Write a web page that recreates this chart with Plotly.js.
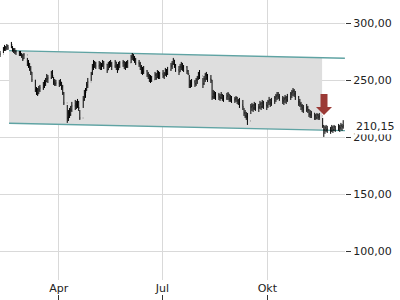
<!DOCTYPE html>
<html>
<head>
<meta charset="utf-8">
<script src="https://cdn.plot.ly/plotly-3.0.1.min.js"></script>
<style>html,body{margin:0;padding:0;background:#fff;}#chart{width:400px;height:300px;}</style>
</head>
<body>
<div id="chart"></div>
<script>
// ---- data ----
const startDate = '2024-02-09'; // first trading day shown (weekdays follow)
const highs = [
  275.7,
  279.2, 281, 280, 281.8, 281,
  283.6, 280, 278.3, 278.3, 276.6,
  275.7, 275.7, 273.9, 273, 273.9,
  269.6, 267.8, 265.2, 262.5, 257.3,
  250.3, 244.1, 243.2, 245, 245.9,
  248.5, 250.3, 252, 255.5, 254.6,
  258.2, 259, 252.9, 251.1, 250.3,
  250.3, 251.1, 248.5, 245.9, 239.7,
  228.3, 223.9, 225.7, 227.5, 231,
  232.7, 231.9, 233.6, 231.9, 223.9,
  236.2, 241.5, 243.2, 248.5, 252,
  257.3, 264.3, 267.8, 266.9, 266.1,
  266.9, 266.1, 265.2, 267.8, 266.9,
  264.3, 266.1, 266.9, 267.8, 266.1,
  267.8, 266.1, 264.3, 266.1, 266.9,
  267.8, 266.9, 266.1, 266.9, 267.8,
  272.2, 273.9, 273, 271.3, 269.6,
  267.8, 266.1, 263.4, 261.7, 262.5,
  259, 257.3, 255.5, 254.6, 253.8,
  257.3, 256.4, 259, 258.2, 257.3,
  259, 257.3, 260.8, 259.9, 261.7,
  265.2, 266.9, 269.6, 267.8, 264.3,
  262.5, 264.3, 266.1, 265.2, 263.4,
  262.5, 259, 254.6, 250.3, 251.1,
  250.3, 252, 253.8, 257.3, 259,
  252, 253.8, 256.4, 257.3, 255.5,
  254.6, 250.3, 241.5, 240.6, 239.7,
  238.9, 238, 239.7, 238, 237.1,
  238.9, 239.7, 238, 237.1, 236.2,
  235.4, 236.2, 235.4, 233.6, 234.5,
  232.7, 225.7, 223.9, 222.2, 221.3,
  229.2, 230.1, 229.2, 231, 230.1,
  229.2, 231.9, 231, 232.7, 231.9,
  231, 232.7, 235.4, 233.6, 234.5,
  236.2, 238, 239.7, 239.7, 238,
  236.2, 235.4, 237.1, 236.2, 238,
  239.7, 241.5, 243.2, 242.3, 240.6,
  236.2, 233.6, 231, 229.2, 228.3,
  229.2, 227.5, 224.8, 223.9, 223.1,
  221.3, 220.4, 221.3, 220.4, 221.3,
  217, 210.8, 210, 210.8, 210,
  209.1, 210.8, 210, 210.8, 210,
  211.7, 210.8, 212.6, 211.7, 215
];
const lows = [
  270.4,
  273.9, 275.7, 275.7, 276.6, 276.6,
  278.3, 275, 273.9, 273, 272.2,
  271.3, 271.3, 269.6, 266.9, 268.7,
  262.5, 260.8, 258.2, 254.6, 248.5,
  239.7, 237.1, 236.2, 238, 239.7,
  241.5, 243.2, 245, 248.5, 247.6,
  251.1, 252, 245.9, 245, 245,
  244.1, 245, 241.5, 237.1, 228.3,
  212.6, 214.3, 216.9, 218.7, 222.2,
  223.9, 224.8, 225.7, 223.1, 215.2,
  225.7, 231.9, 234.5, 240.6, 243.2,
  249.4, 254.6, 259, 260.8, 259.9,
  259.9, 259, 259, 261.7, 259.9,
  256.4, 259, 260.8, 261.7, 259,
  260.8, 259, 256.4, 259, 260.8,
  261.7, 259.9, 259, 260.8, 260.8,
  265.2, 267.8, 266.9, 265.2, 263.4,
  261.7, 259, 255.5, 254.6, 255.5,
  252.9, 251.1, 248.5, 247.6, 248.5,
  250.3, 250.3, 252, 251.1, 251.1,
  252, 251.1, 253.8, 252.9, 254.6,
  258.2, 259.9, 263.4, 260.8, 257.3,
  254.6, 257.3, 259, 258.2, 257.3,
  255.5, 254.6, 243.2, 243.2, 244.1,
  244.1, 245, 246.8, 250.3, 251.1,
  243.2, 245.9, 248.5, 250.3, 248.5,
  247.6, 232.7, 233.6, 233.6, 232.7,
  232.7, 231.9, 233.6, 231.9, 231,
  232.7, 232.7, 231, 231, 230.1,
  230.1, 231, 229.2, 228.3, 225.7,
  223.9, 218.7, 216.9, 215.2, 210.8,
  220.4, 223.1, 222.2, 223.9, 223.1,
  222.2, 224.8, 223.9, 225.7, 224.8,
  223.9, 225.7, 228.3, 226.6, 227.5,
  229.2, 231, 232.7, 233.6, 231.9,
  229.2, 228.3, 230.1, 229.2, 231,
  232.7, 234.5, 236.2, 235.4, 232.7,
  227.5, 226.6, 223.9, 222.2, 221.3,
  222.2, 221.3, 217.8, 216.9, 216.9,
  215.2, 215.2, 216.1, 215.2, 215.2,
  208.2, 200.3, 203, 204.7, 203.8,
  203, 204.7, 203.8, 205.6, 204.7,
  205.6, 204.7, 206.5, 205.6, 207.5
];
const closes = [
  273,
  277.5, 279.2, 278.3, 280, 278.3,
  281, 276.6, 276.6, 275, 275,
  273.9, 272.2, 271.3, 268.7, 272.2,
  266.1, 262.5, 259.9, 257.3, 250.3,
  241.5, 238.9, 238, 241.5, 243.2,
  245, 247.6, 248.5, 251.1, 252,
  256.4, 253.8, 248.5, 246.8, 247.6,
  246.8, 248.5, 244.1, 238.9, 230.1,
  216.9, 221.3, 219.6, 223.9, 227.5,
  229.2, 228.3, 231, 225.7, 216.9,
  232.7, 238, 239.7, 245.9, 248.5,
  255.5, 261.7, 266.1, 264.3, 262.5,
  263.4, 260.8, 262.5, 266.1, 264.3,
  259, 264.3, 265.2, 264.3, 262.5,
  266.1, 262.5, 259, 264.3, 265.2,
  266.1, 263.4, 264.3, 266.1, 265.2,
  270.4, 272.2, 268.7, 267.8, 265.2,
  264.3, 261.7, 259, 257.3, 258.2,
  255.5, 253.8, 251.1, 252, 250.3,
  254.6, 252, 256.4, 253.8, 255.5,
  253.8, 255.5, 259, 255.5, 259,
  262.5, 264.3, 267.8, 263.4, 259,
  257.3, 261.7, 264.3, 260.8, 261.7,
  258.2, 255.5, 245.9, 247.6, 248.5,
  246.8, 250.3, 252, 255.5, 253.8,
  246.8, 251.1, 254.6, 254.6, 251.1,
  250.3, 235.4, 238, 236.2, 237.1,
  235.4, 234.5, 237.1, 233.6, 234.5,
  236.2, 238, 233.6, 235.4, 232.7,
  233.6, 234.5, 231.9, 230.1, 228.3,
  226.6, 221.3, 218.7, 217.8, 214.3,
  226.6, 227.5, 225.7, 228.3, 225.7,
  226.6, 229.2, 226.6, 230.1, 228.3,
  227.5, 231, 232.7, 230.1, 231.9,
  234.5, 236.2, 237.1, 235.4, 233.6,
  231.9, 233.6, 234.5, 232.7, 235.4,
  238, 239.7, 240.6, 238, 235.4,
  231, 229.2, 227.5, 225.7, 223.9,
  225.7, 223.9, 220.4, 219.6, 221.3,
  218.7, 216.9, 219.6, 217.8, 218.7,
  210, 206.5, 208.2, 206.5, 207.3,
  205.6, 208.2, 206.5, 209.1, 207.3,
  209.1, 208.2, 210, 209.1, 210.15
];
// trend channel
const channelDates  = ['2024-02-17 10:00', '2024-11-18 00:00', '2024-12-08 00:00'];
const channelTop    = [276.0, 269.8, 269.3];
const channelBottom = [212.3, 206.2, 205.8];
// sell signal
const signalDate  = '2024-11-19 16:00';
const signalValue = 219.6;
// axes
const xTickVals  = ['2024-04-01', '2024-07-01', '2024-10-01'];
const xTickText  = ['Apr', 'Jul', 'Okt'];
const yTickVals  = [100, 150, 200, 250, 300];
const xRange = ['2024-02-09 12:00', '2024-12-08 02:00'];
const yRange = [74.8, 320.4];

// ---- build ----
function tradingDays(start, n) {
  const out = [];
  const d = new Date(start + 'T00:00:00Z');
  while (out.length < n) {
    const wd = d.getUTCDay();
    if (wd !== 0 && wd !== 6) out.push(d.toISOString().slice(0, 10));
    d.setUTCDate(d.getUTCDate() + 1);
  }
  return out;
}
function shiftHours(day, h) {
  const d = new Date(day + 'T12:00:00Z');
  d.setUTCHours(d.getUTCHours() + h);
  return d.toISOString().slice(0, 19).replace('T', ' ');
}
const dates = tradingDays(startDate, closes.length);
const opens = closes.map((c, i) => i === 0 ? c : closes[i - 1]);
const lastClose = closes[closes.length - 1];

// OHLC bars as line segments (drawn above the channel fill)
const barX = [], barY = [];
dates.forEach((d, i) => {
  const mid = shiftHours(d, 0);
  barX.push(mid, mid, null);
  barY.push(highs[i], lows[i], null);
  barX.push(shiftHours(d, -8), mid, null);
  barY.push(opens[i], opens[i], null);
  barX.push(mid, shiftHours(d, 8), null);
  barY.push(closes[i], closes[i], null);
});

const traces = [
  { type: 'scatter', mode: 'lines',
    x: [channelDates[0], channelDates[1], channelDates[1], channelDates[0]],
    y: [channelTop[0], channelTop[1], channelBottom[1], channelBottom[0]],
    fill: 'toself', fillcolor: '#dedede', line: { width: 0 },
    hoverinfo: 'skip', showlegend: false },
  { type: 'scatter', mode: 'lines',
    x: [channelDates[0], channelDates[2]], y: [channelTop[0], channelTop[2]],
    line: { color: '#5fa3a3', width: 1.4 }, hoverinfo: 'skip', showlegend: false },
  { type: 'scatter', mode: 'lines',
    x: [channelDates[0], channelDates[2]], y: [channelBottom[0], channelBottom[2]],
    line: { color: '#5fa3a3', width: 1.4 }, hoverinfo: 'skip', showlegend: false },
  { type: 'scatter', mode: 'lines', x: barX, y: barY, connectgaps: false,
    line: { color: '#000', width: 1 }, hoverinfo: 'skip', showlegend: false },
  { type: 'scatter', mode: 'markers', x: xTickVals, y: xTickVals.map(() => null),
    xaxis: 'x2', yaxis: 'y', hoverinfo: 'skip', showlegend: false }
];

const font = { family: 'DejaVu Sans', size: 11, color: '#222' };
const layout = {
  width: 400, height: 300,
  margin: { l: 0, r: 55, t: 0, b: 0, pad: 0 },
  paper_bgcolor: '#fff', plot_bgcolor: '#fff',
  separators: ',.',
  font: font,
  showlegend: false,
  xaxis: {
    type: 'date', range: xRange, tickvals: xTickVals, ticktext: xTickText,
    ticks: '', showgrid: true, gridcolor: '#d9d9d9', gridwidth: 1,
    zeroline: false, showline: false, tickfont: font, fixedrange: true
  },
  xaxis2: {
    type: 'date', range: xRange, overlaying: 'x', anchor: 'free', position: 0,
    side: 'bottom', tickvals: xTickVals, ticks: 'inside', ticklen: 5,
    tickcolor: '#333', tickwidth: 1, showticklabels: false, showgrid: false,
    zeroline: false, showline: false
  },
  yaxis: {
    side: 'right', range: yRange, domain: [20 / 300, 1],
    tickvals: yTickVals, tickformat: '.2f', ticks: 'outside', ticklen: 5,
    tickcolor: '#333', tickwidth: 1, showgrid: true, gridcolor: '#d9d9d9',
    zeroline: false, showline: false, tickfont: font, fixedrange: true
  },
  shapes: [
    { type: 'path', xref: 'x', yref: 'y',
      xsizemode: 'pixel', xanchor: signalDate,
      ysizemode: 'pixel', yanchor: signalValue,
      path: 'M -3.5 21 L 3.5 21 L 3.5 8 L 8 8 L 0 0 L -8 8 L -3.5 8 Z',
      fillcolor: '#9b3a36', line: { width: 0 } }
  ],
  annotations: [
    { xref: 'paper', x: 1, xanchor: 'left', xshift: 9,
      yref: 'y', y: lastClose, yanchor: 'middle', yshift: -1,
      text: lastClose.toFixed(2).replace('.', ','), showarrow: false,
      font: font, bgcolor: '#fff', borderpad: 1 }
  ]
};

Plotly.newPlot('chart', traces, layout, { staticPlot: true, displayModeBar: false });
</script>
</body>
</html>
